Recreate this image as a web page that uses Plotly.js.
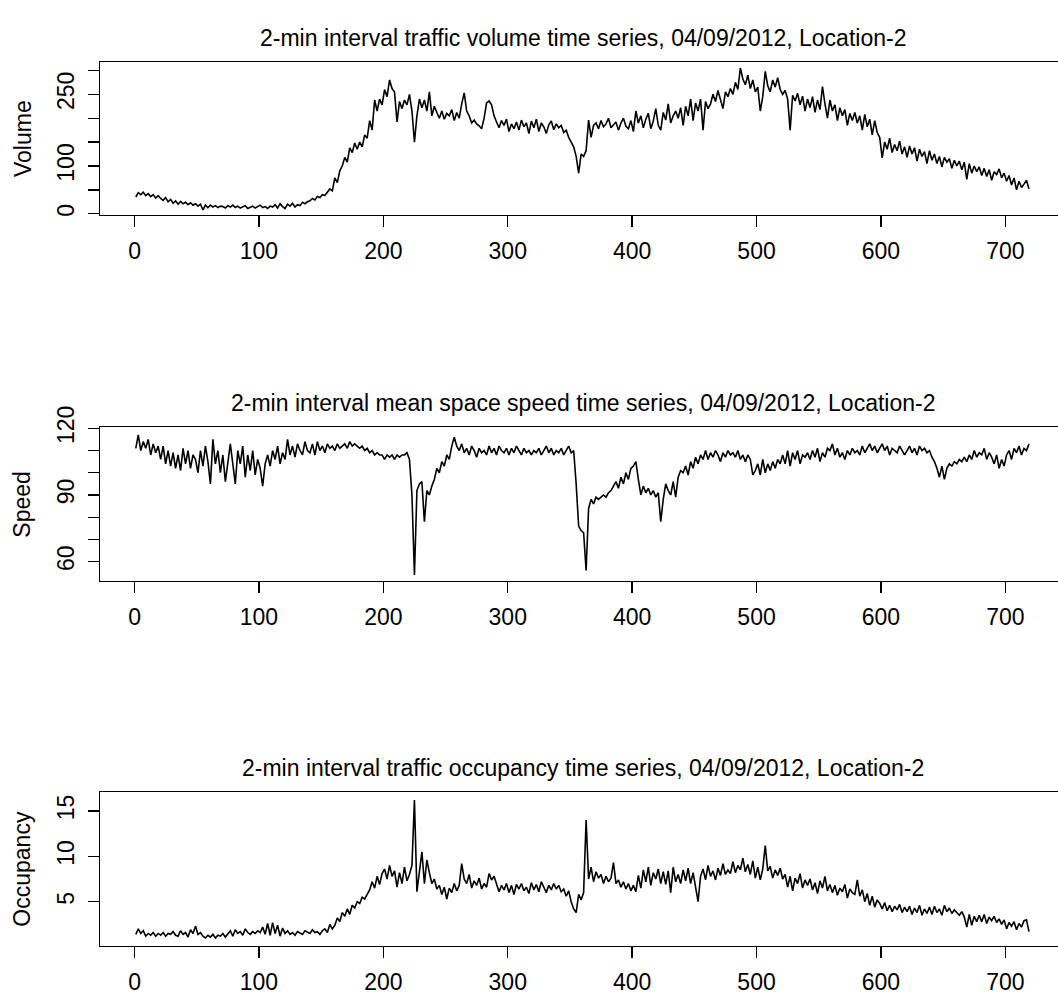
<!DOCTYPE html>
<html>
<head>
<meta charset="utf-8">
<script src="https://cdn.plot.ly/plotly-3.0.1.min.js"></script>
<style>html,body{margin:0;padding:0;overflow:hidden;background:#fff;}</style>
</head>
<body>
<div id="chart" style="width:1080px;height:994px;"></div>
<script>
// 2-minute samples (every other interval shown), x = interval index
const volume = [
35,44,40,45,38,42,36,40,33,38,
32,28,34,25,30,22,27,20,26,21,
24,19,23,18,21,16,20,8,18,13,
18,14,17,13,16,15,12,17,14,18,
13,16,12,15,17,11,14,16,12,15,
18,13,15,11,16,14,19,12,21,15,
11,20,16,22,14,19,17,24,21,25,
27,32,29,36,34,40,38,45,52,48,
75,65,90,100,118,108,138,128,148,135,
150,140,165,158,195,175,238,215,240,228,
260,245,280,262,255,192,235,220,238,228,
250,215,150,205,240,222,238,215,255,205,
225,212,200,215,198,210,205,218,195,212,
200,230,253,215,205,190,196,188,184,178,
200,232,236,228,205,192,180,195,185,198,
172,188,178,192,175,196,182,190,168,194,
180,198,172,190,182,168,186,194,176,188,
180,185,170,175,160,150,140,120,85,125,
120,132,196,160,185,190,178,195,182,188,
200,180,186,192,175,190,200,183,178,195,
172,215,190,205,180,198,210,178,194,220,
185,175,212,196,230,190,205,215,200,222,
185,225,205,240,195,232,215,240,175,235,
220,230,250,235,258,240,220,255,245,262,
250,275,260,305,282,270,290,262,280,255,
265,215,245,298,268,255,280,265,285,260,
250,258,240,175,248,236,252,228,246,215,
240,222,245,212,238,218,266,230,200,238,
215,228,195,222,205,218,185,210,195,212,
190,205,175,208,182,198,165,195,170,160,
117,150,135,158,128,145,132,152,125,140,
118,142,125,138,110,135,120,130,105,132,
112,125,105,120,98,118,108,115,95,112,
100,110,92,108,72,105,85,100,88,98,
80,95,78,92,70,88,82,94,75,85,
68,80,60,75,50,68,55,62,70,52
];
const speed = [
111,117,110,114,111,115,108,113,109,112,
106,112,104,110,103,109,102,108,101,111,
104,110,102,108,106,100,110,103,112,105,
95,115,104,110,100,108,96,106,113,104,
95,110,104,112,98,108,101,110,99,106,
102,94,104,108,103,110,106,112,104,109,
106,115,108,112,107,113,110,108,114,110,
109,113,108,114,110,112,109,113,111,112,
110,113,111,112,113,111,114,112,113,112,
111,112,110,111,109,110,108,109,108,108,
106,108,107,108,106,108,107,108,108,109,
106,90,54,92,95,96,78,92,90,94,
97,102,100,105,103,108,106,112,116,112,
110,113,109,111,108,112,110,107,111,109,
110,108,112,109,111,108,112,110,109,111,
108,111,109,112,110,108,111,109,110,108,
110,109,111,108,110,112,109,111,108,110,
109,111,108,110,112,109,110,95,76,74,
73,56,84,88,86,89,88,89,90,89,
91,92,94,96,93,98,95,100,97,102,
103,105,97,90,94,91,93,90,92,89,
91,78,88,95,92,90,96,89,98,101,
100,103,99,105,102,107,104,108,106,110,
106,109,107,110,108,105,109,107,110,108,
109,107,110,106,108,105,108,106,99,101,
104,99,106,100,104,101,105,102,106,104,
108,104,110,103,109,106,110,104,108,107,
109,106,110,107,111,105,109,107,111,110,
113,108,111,107,109,106,110,108,111,109,
110,108,112,109,111,113,110,112,109,111,
113,110,112,108,111,110,109,112,110,108,
110,112,109,111,108,112,110,111,109,110,
107,105,102,98,103,97,102,104,103,105,
104,106,105,107,105,108,106,110,107,109,
108,111,106,109,107,104,108,102,106,103,
108,110,106,111,109,112,108,111,110,113
];
const occupancy = [
1.4,2.0,1.5,1.8,1.2,1.5,1.3,1.6,1.2,1.5,
1.3,1.6,1.2,1.5,1.4,1.7,1.3,1.2,1.8,1.4,
1.6,1.1,1.9,1.5,2.3,1.4,1.6,1.2,1.0,1.3,
1.1,1.4,1.0,1.3,1.2,1.5,1.1,1.4,1.8,1.2,
1.9,1.5,1.7,1.3,2.0,1.6,1.4,1.7,1.5,1.8,
1.6,2.2,1.4,2.6,1.3,2.7,1.5,2.4,1.2,2.1,
1.5,1.8,1.4,1.6,1.3,1.7,1.5,1.4,1.8,1.6,
1.5,1.9,1.6,1.7,1.4,1.8,2.0,1.6,2.5,2.0,
2.4,3.2,2.8,3.8,3.4,4.2,3.6,4.6,4.3,5.0,
4.8,5.5,5.3,5.8,6.3,7.2,6.5,7.8,6.9,8.1,
8.6,7.5,9.0,7.8,8.4,6.6,8.2,7.0,8.8,7.3,
8.0,9.0,16.2,6.1,8.2,10.5,7.0,9.6,8.2,7.0,
7.5,6.4,6.8,5.8,6.6,5.3,6.5,6.0,7.0,6.2,
6.8,9.2,7.5,7.0,8.0,6.5,7.3,6.8,7.6,6.4,
7.0,6.6,8.1,7.4,7.8,6.9,6.1,6.8,6.3,7.0,
6.0,6.8,5.8,6.9,6.4,7.0,6.2,6.6,5.9,7.1,
6.3,6.9,6.1,7.2,6.5,6.0,6.8,6.3,7.0,6.4,
6.8,6.1,6.4,5.6,6.2,5.0,4.2,3.8,5.8,5.2,
6.0,14.0,7.5,8.8,7.2,8.3,7.6,8.0,7.0,7.8,
7.2,7.6,9.3,7.0,7.4,6.6,7.2,6.4,7.0,6.2,
6.8,6.1,7.9,6.5,8.5,7.2,8.8,6.8,8.2,7.5,
8.6,7.0,8.3,6.9,8.4,6.0,8.8,7.2,8.0,7.0,
8.5,7.3,8.7,7.0,8.2,6.5,5.0,7.8,8.6,7.4,
9.0,7.8,8.4,7.4,8.7,7.9,9.2,8.0,8.5,8.1,
9.4,8.2,9.0,8.5,9.8,8.3,9.1,8.0,9.5,7.6,
8.8,7.4,8.6,11.2,8.4,8.9,7.6,8.5,7.9,8.7,
7.5,8.0,6.6,7.8,6.2,7.6,7.0,8.1,6.5,7.4,
6.8,7.5,6.3,7.1,5.9,7.3,6.5,7.8,6.2,6.9,
6.0,6.8,5.7,6.5,6.1,6.9,5.4,6.4,6.0,5.8,
7.4,5.6,6.3,5.0,5.9,4.6,5.6,4.4,5.2,4.8,
4.2,4.9,4.0,4.6,3.9,4.5,4.1,4.7,3.8,4.4,
3.9,4.5,3.6,4.3,3.8,4.6,3.5,4.2,3.7,4.4,
3.6,4.5,3.8,4.2,3.5,4.6,3.9,4.3,3.7,4.1,
3.8,3.5,3.9,3.3,2.2,3.6,2.4,3.4,2.8,3.5,
2.8,3.6,2.6,3.3,2.9,3.4,2.7,3.1,2.5,3.0,
2.0,2.7,2.3,2.8,1.9,2.6,2.2,2.9,3.0,1.7
];
const timeIndex = volume.map((_, i) => 1 + 2 * i);

const titles = [
  "2-min interval traffic volume time series, 04/09/2012, Location-2",
  "2-min interval mean space speed time series, 04/09/2012, Location-2",
  "2-min interval traffic occupancy time series, 04/09/2012, Location-2"
];
const yTitles = ["Volume", "Speed", "Occupancy"];
const xTicks = [0, 100, 200, 300, 400, 500, 600, 700];
const volTicks = [0, 50, 100, 150, 200, 250, 300];
const volTickText = ["0", "", "100", "", "", "250", ""];
const spdTicks = [60, 70, 80, 90, 100, 110, 120];
const spdTickText = ["60", "", "", "90", "", "", "120"];
const occTicks = [5, 10, 15];
const occTickText = ["5", "10", "15"];

const H = 994;
const FONT = "Liberation Sans, Arial, Helvetica, sans-serif";
const FS = 23;
// plot box pixel extents (top, bottom)
const boxes = [[62.3, 214.7], [427.3, 581], [792.3, 946]];
const dom = b => [1 - b[1] / H, 1 - b[0] / H];

function xAx(anchor) {
  return {
    domain: [0, 1], anchor: anchor, range: [-27.76, 748.76],
    tickvals: xTicks, ticktext: xTicks.map(String),
    showline: true, linecolor: "black", linewidth: 1.3, mirror: true,
    ticks: "outside", ticklen: 11, tickwidth: 1.3, tickcolor: "black",
    showgrid: false, zeroline: false, ticklabelstandoff: 4,
    tickfont: {family: FONT, size: FS, color: "black"}
  };
}
function yAx(anchor, box, range, vals, text) {
  return {
    domain: dom(box), anchor: anchor, range: range,
    tickvals: vals, ticktext: text, tickangle: -90,
    showline: true, linecolor: "black", linewidth: 1.3, mirror: true,
    ticks: "outside", ticklen: 11, tickwidth: 1.3, tickcolor: "black",
    showgrid: false, zeroline: false, ticklabelstandoff: 5,
    tickfont: {family: FONT, size: FS, color: "black"}
  };
}

const line = {color: "black", width: 1.6};
const traces = [
  {x: timeIndex, y: volume, xaxis: "x", yaxis: "y", type: "scatter", mode: "lines", line: line, hoverinfo: "skip"},
  {x: timeIndex, y: speed, xaxis: "x2", yaxis: "y2", type: "scatter", mode: "lines", line: line, hoverinfo: "skip"},
  {x: timeIndex, y: occupancy, xaxis: "x3", yaxis: "y3", type: "scatter", mode: "lines", line: line, hoverinfo: "skip"}
];

const annotations = [];
boxes.forEach((b, i) => {
  annotations.push({
    text: titles[i], xref: "paper", yref: "paper", x: 0.5, y: 1 - (b[0] - 24) / H,
    xanchor: "center", yanchor: "middle", showarrow: false,
    font: {family: FONT, size: FS, color: "black"}
  });
  annotations.push({
    text: yTitles[i], xref: "paper", yref: "paper", x: (22.5 - 100) / 966, y: 1 - (b[0] + b[1]) / 2 / H,
    xanchor: "center", yanchor: "middle", showarrow: false, textangle: -90,
    font: {family: FONT, size: FS, color: "black"}
  });
});

const layout = {
  width: 1080, height: H,
  margin: {l: 100, r: 14, t: 0, b: 0},
  paper_bgcolor: "white", plot_bgcolor: "white",
  showlegend: false,
  xaxis: xAx("y"), xaxis2: xAx("y2"), xaxis3: xAx("y3"),
  yaxis: yAx("x", boxes[0], [-2, 317], volTicks, volTickText),
  yaxis2: yAx("x2", boxes[1], [51.3, 120.45], spdTicks, spdTickText),
  yaxis3: yAx("x3", boxes[2], [0.116, 17.06], occTicks, occTickText),
  annotations: annotations
};

Plotly.newPlot("chart", traces, layout, {staticPlot: true, displayModeBar: false});
</script>
</body>
</html>
